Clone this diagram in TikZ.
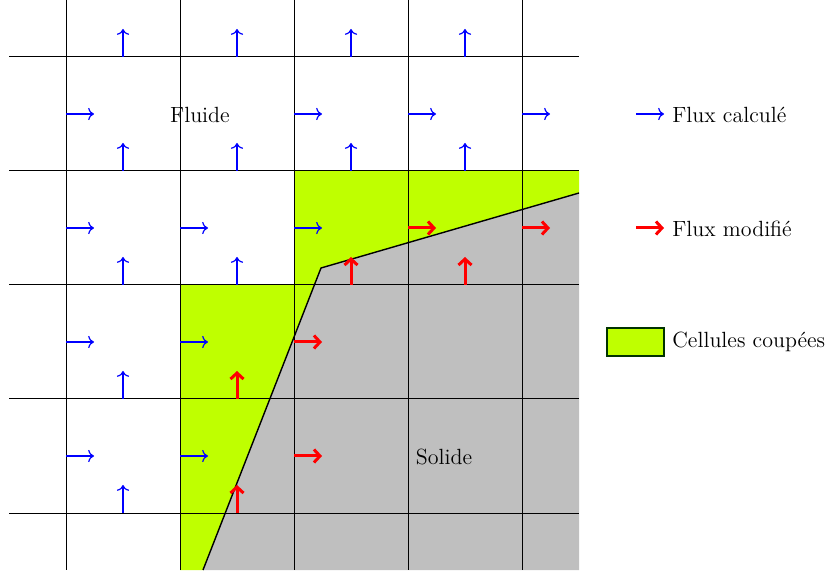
\documentclass[tikz,border=0pt]{standalone}
\definecolor{cutgreen}{rgb}{0.75,1,0}
\definecolor{solidgray}{rgb}{0.75,0.75,0.75}
\usetikzlibrary{arrows.meta}
\tikzset{
  gridline/.style={black, line width=0.5pt},
  fluxc/.style={blue, line width=0.6pt, ->},
  fluxm/.style={red, line width=1.5pt, -{Straight Barb[length=3pt,width=6.5pt]}},
  lbl/.style={font=\fontsize{11}{13}\selectfont, inner sep=0pt},
}
\begin{document}
\begin{tikzpicture}[x=0.5pt, y=-0.5pt]
\useasboundingbox (0,0) rectangle (829,576);
% regions
\fill[cutgreen] (180,285) -- (294,285) -- (294,171) -- (579,171) -- (579,193) -- (321,268) -- (203,570) -- (180,570) -- cycle;
\fill[solidgray] (203,570) -- (321,268) -- (579,193) -- (579,570) -- cycle;
% grid
\foreach \y in {57,171,285,399,513} \draw[gridline] (9,\y) -- (579,\y);
\foreach \x in {66,180,294,408,522} \draw[gridline] (\x,0) -- (\x,570);
% boundary
\draw[black, line width=0.7pt] (203,570) -- (321,268) -- (579,193);
% blue horizontal fluxes
\foreach \x/\y in {66/114,294/114,408/114,522/114,66/228,180/228,294/228,66/342,180/342,66/456,180/456}
  \draw[fluxc] (\x,\y) -- ++(28,0);
% blue vertical fluxes
\foreach \x/\y in {123/57,237/57,351/57,465/57,123/171,237/171,351/171,465/171,123/285,237/285,123/399,123/513}
  \draw[fluxc] (\x,\y) -- ++(0,-28);
% red horizontal fluxes
\foreach \x/\y in {408/228,522/228,294/342,294/456}
  \draw[fluxm] (\x,\y) -- ++(28,0);
% red vertical fluxes
\foreach \x/\y in {351/285,465/285,237/399,237/513}
  \draw[fluxm] (\x,\y) -- ++(0,-28);
% labels
\node[lbl] (fluide) at (200,115) {Fluide};
\node[lbl] (solide) at (444,457) {Solide};
% legend
\coordinate (lc1) at (636,114);
\coordinate (lc2) at (664,114);
\draw[fluxc] (lc1) -- (lc2);
\node[lbl, anchor=west] (lt1) at (672,115) {Flux calculé};
\coordinate (lm1) at (636,228);
\coordinate (lm2) at (664,228);
\draw[fluxm] (lm1) -- (lm2);
\node[lbl, anchor=west] (lt2) at (672,229) {Flux modifié};
\draw[fill=cutgreen, draw=black!80!green, line width=0.6pt] (607,328) rectangle (664,356);
\node[lbl, anchor=west] (lt3) at (672,342) {Cellules coupées};
\end{tikzpicture}
\end{document}
